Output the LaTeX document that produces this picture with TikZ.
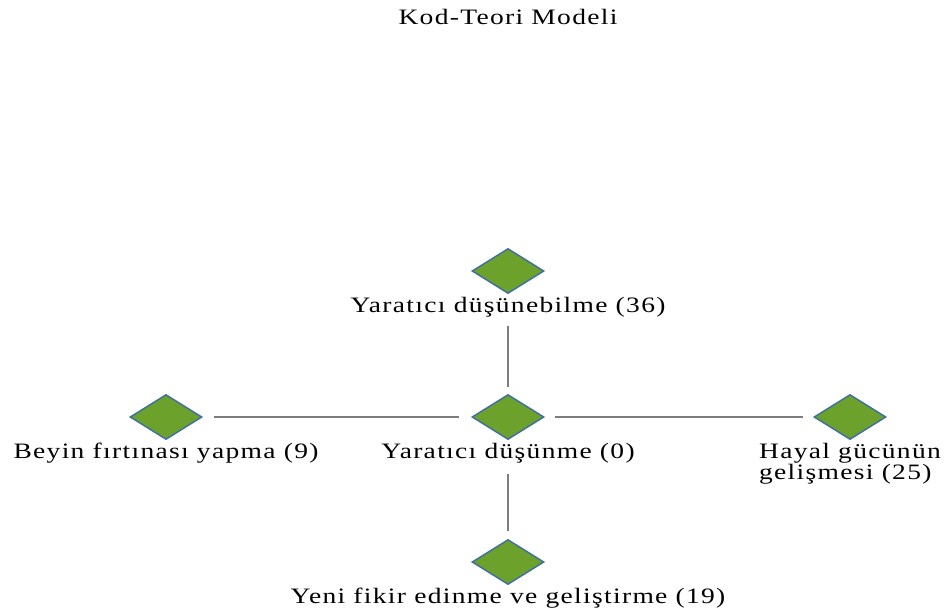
\documentclass[tikz,border=0pt]{standalone}
\usepackage{fontspec}
\setmainfont[FakeStretch=1.25,LetterSpace=6]{Liberation Serif}
\usetikzlibrary{shapes.geometric}
\usetikzlibrary{positioning}
\definecolor{vert}{RGB}{108,162,44}
\definecolor{bleu}{RGB}{65,113,156}
\definecolor{gris}{RGB}{125,125,125}
\begin{document}
\begin{tikzpicture}[x=1pt,y=-1pt]
\tikzstyle{lien}=[draw=gris,line width=1.7pt]
\tikzset{losange/.style={diamond,draw=bleu,fill=vert,line width=1.5pt,inner sep=0pt,minimum width=72pt,minimum height=45pt},
legende/.style={font=\fontsize{22}{21}\selectfont,inner sep=1pt}}
\useasboundingbox (0,0) rectangle (952,614);
\node [legende] (titre) at (508,17) {Kod-Teori Modeli};
\node [losange] (haut) at (508,271) {};
\node [losange] (centre) at (508,417) {};
\node [losange] (gauche) at (166,417) {};
\node [losange] (droite) at (850,417) {};
\node [losange] (bas) at (508,562) {};
\node [legende, below=2pt of haut] (lhaut) {Yaratıcı düşünebilme (36)};
\node [legende, below=2pt of centre] (lcentre) {Yaratıcı düşünme (0)};
\node [legende, below=2pt of gauche] (lgauche) {Beyin fırtınası yapma (9)};
\node [legende, below=2pt of droite, align=left] (ldroite) {Hayal gücünün\\gelişmesi (25)};
\node [legende, below=2pt of bas] (lbas) {Yeni fikir edinme ve geliştirme (19)};
\draw [lien,shorten <=7pt,shorten >=7pt] (lhaut.south -| centre.north) -- (centre.north);
\draw [lien,shorten <=9pt,shorten >=8pt] (centre.south |- lcentre.south) -- (bas.north);
\draw [lien,shorten <=11pt,shorten >=12pt] (gauche.east) -- (centre.west);
\draw [lien,shorten <=10pt,shorten >=10pt] (centre.east) -- (droite.west);
\end{tikzpicture}
\end{document}
